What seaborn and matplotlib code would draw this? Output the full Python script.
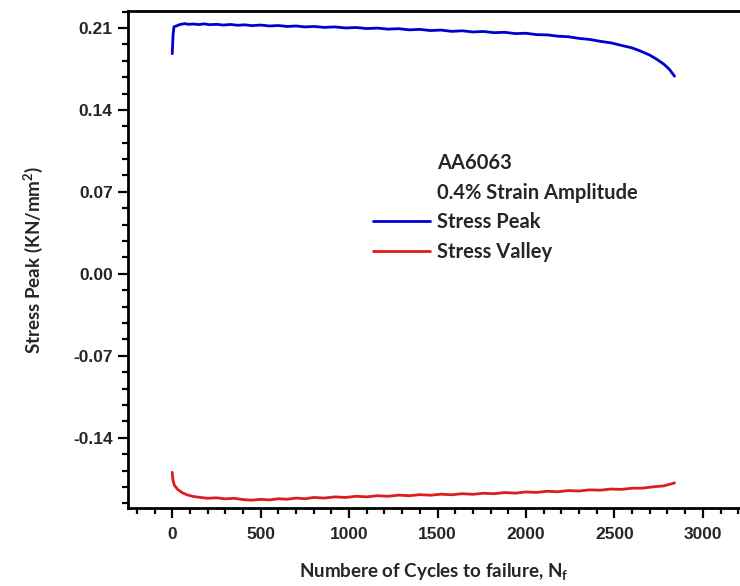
import matplotlib
matplotlib.use("Agg")
import matplotlib.pyplot as plt
from matplotlib.lines import Line2D
from matplotlib.ticker import MultipleLocator, FormatStrFormatter
import seaborn as sns
import pandas as pd

# ---- data ----
peak_cycles = [0, 5, 10, 25, 45, 70, 95, 120, 150, 180, 210, 250, 290, 330, 370, 410,
               450, 500, 550, 600, 650, 700, 750, 800, 860, 920, 980, 1040, 1100, 1160,
               1220, 1280, 1340, 1400, 1460, 1520, 1580, 1640, 1700, 1760, 1820, 1880,
               1940, 2000, 2060, 2120, 2180, 2240, 2300, 2360, 2420, 2480, 2540, 2600,
               2650, 2700, 2740, 2780, 2810, 2840]
peak_stress = [0.1880, 0.2045, 0.2110, 0.2118, 0.2130, 0.2137, 0.2131, 0.2134, 0.2129,
               0.2135, 0.2128, 0.2131, 0.2125, 0.2130, 0.2123, 0.2127, 0.2120, 0.2125,
               0.2117, 0.2121, 0.2113, 0.2117, 0.2109, 0.2113, 0.2105, 0.2109, 0.2100,
               0.2104, 0.2095, 0.2099, 0.2090, 0.2094, 0.2084, 0.2088, 0.2078, 0.2082,
               0.2071, 0.2076, 0.2066, 0.2070, 0.2060, 0.2063, 0.2052, 0.2055, 0.2043,
               0.2041, 0.2030, 0.2025, 0.2011, 0.2002, 0.1986, 0.1973, 0.1951, 0.1930,
               0.1901, 0.1868, 0.1832, 0.1790, 0.1748, 0.1688]

valley_cycles = [0, 4, 12, 30, 55, 85, 120, 160, 200, 250, 300, 350, 400, 450, 500, 550,
                 600, 650, 700, 750, 800, 860, 920, 980, 1040, 1100, 1160, 1220, 1280,
                 1340, 1400, 1460, 1520, 1580, 1640, 1700, 1760, 1820, 1880, 1940, 2000,
                 2060, 2120, 2180, 2240, 2300, 2360, 2420, 2480, 2540, 2600, 2660, 2720,
                 2780, 2840]
valley_stress = [-0.1695, -0.1760, -0.1805, -0.1840, -0.1868, -0.1888, -0.1902, -0.1910,
                 -0.1917, -0.1913, -0.1922, -0.1917, -0.1928, -0.1933, -0.1926, -0.1931,
                 -0.1921, -0.1925, -0.1915, -0.1921, -0.1910, -0.1915, -0.1905, -0.1910,
                 -0.1900, -0.1905, -0.1895, -0.1900, -0.1890, -0.1895, -0.1886, -0.1891,
                 -0.1882, -0.1887, -0.1878, -0.1883, -0.1874, -0.1878, -0.1868, -0.1873,
                 -0.1863, -0.1867, -0.1857, -0.1861, -0.1851, -0.1855, -0.1845, -0.1848,
                 -0.1838, -0.1841, -0.1831, -0.1830, -0.1819, -0.1811, -0.1786]

series_names = ["Stress Peak", "Stress Valley"]
series_colors = ["#0000CC", "#DD1E1E"]
legend_notes = ["AA6063", "0.4% Strain Amplitude"]

df = pd.concat([
    pd.DataFrame({"cycles": peak_cycles, "stress": peak_stress, "series": series_names[0]}),
    pd.DataFrame({"cycles": valley_cycles, "stress": valley_stress, "series": series_names[1]}),
], ignore_index=True)

sns.set_style("ticks")
plt.rcParams["font.family"] = ["Liberation Sans", "DejaVu Sans"]
plt.rcParams["mathtext.fontset"] = "custom"
plt.rcParams["mathtext.rm"] = "Lato:bold"
plt.rcParams["mathtext.bf"] = "Lato:bold"
plt.rcParams["mathtext.it"] = "Lato:bold"

W, H = 740, 586
fig = plt.figure(figsize=(W / 100, H / 100), dpi=100)
ax = fig.add_axes([128 / W, (H - 508) / H, (W - 128) / W, (508 - 11) / H])

sns.lineplot(data=df, x="cycles", y="stress", hue="series", palette=series_colors,
             hue_order=series_names, sort=False, estimator=None, linewidth=2.0,
             legend=False, ax=ax)

ax.set_xlim(-250, 3210)
ax.set_ylim(-0.2, 0.2245)
ax.xaxis.set_major_locator(MultipleLocator(500))
ax.xaxis.set_minor_locator(MultipleLocator(100))
ax.yaxis.set_major_locator(MultipleLocator(0.07))
ax.yaxis.set_minor_locator(MultipleLocator(0.014))
ax.yaxis.set_major_formatter(FormatStrFormatter("%.2f"))

for s in ["left", "bottom", "top"]:
    ax.spines[s].set_linewidth(2.0)
    ax.spines[s].set_color("black")
ax.spines["right"].set_visible(False)

ax.tick_params(which="major", length=7, width=1.6, direction="out", color="black",
               labelsize=12.5)
ax.tick_params(axis="x", which="major", pad=7)
ax.tick_params(axis="y", which="major", pad=4)
ax.tick_params(which="minor", length=4, width=1.6, direction="out", color="black")
for lab in ax.get_xticklabels() + ax.get_yticklabels():
    lab.set_fontweight("bold")

lab_font = dict(family=["Lato", "DejaVu Sans"], weight="bold", size=13.5)
ax.set_xlabel("Numbere of Cycles to failure, N$_\\mathrm{f}$", labelpad=13, **lab_font)
ax.set_ylabel("Stress Peak (KN/mm$^\\mathrm{2}$)", labelpad=20, **lab_font)

handles = [Line2D([], [], color="none"), Line2D([], [], color="none"),
           Line2D([], [], color=series_colors[0], linewidth=2.0),
           Line2D([], [], color=series_colors[1], linewidth=2.0)]
labels = legend_notes + series_names
leg = fig.legend(handles, labels, loc="upper left", bbox_to_anchor=(373 / W, 1 - 153 / H),
                 frameon=False, prop=dict(family=["Lato", "DejaVu Sans"], weight="bold", size=14.5),
                 handlelength=2.85, handletextpad=0.35, labelspacing=0.48, borderpad=0,
                 borderaxespad=0)

fig.savefig("out.png", dpi=100)
